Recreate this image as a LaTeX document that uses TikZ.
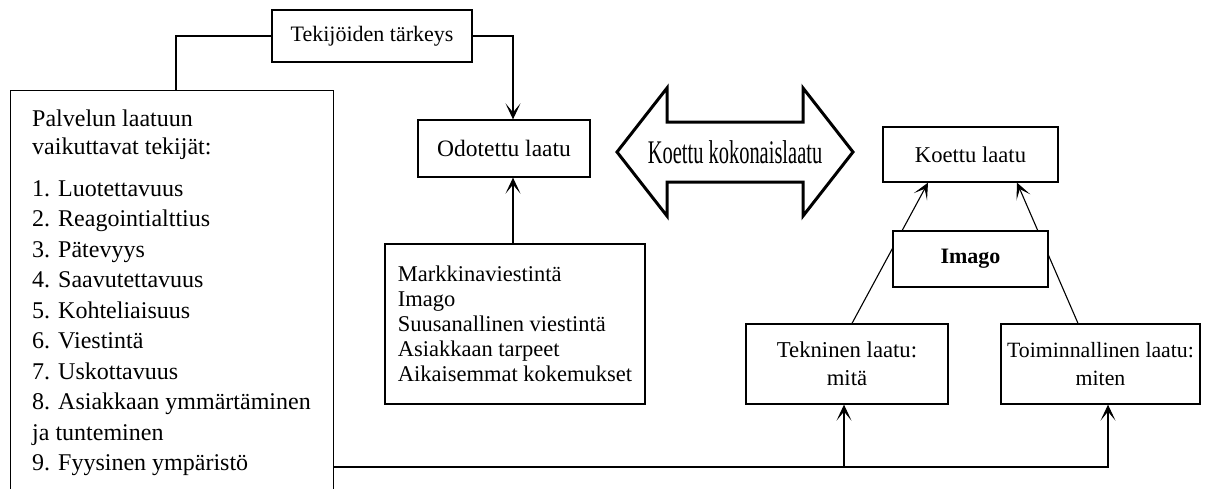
\documentclass[tikz,border=0pt]{standalone}
\usepackage{fontspec}
\setmainfont{Liberation Serif}
\usetikzlibrary{arrows.meta}
\begin{document}
\begin{tikzpicture}[x=1pt,y=-1pt,
  box/.style={draw, line width=1.3pt, fill=white, inner sep=0pt, align=center},
  link/.style={line width=1.1pt},
  arr/.style={link, -{Stealth[length=16pt,width=15pt,inset=9pt]}}]
\useasboundingbox (0,0) rectangle (1209,488);
\fill[white] (0,0) rectangle (1209,488);

% helper positions for connector routing
\coordinate (ax) at (513,0);
\coordinate (bus) at (0,467);

% left column
\node[box, minimum width=200pt, minimum height=52pt, font=\fontsize{22}{26}\selectfont] (tek) at (372,36) {Tekijöiden tärkeys};
\node[box, minimum width=323pt, minimum height=405pt, anchor=north west] (big) at (10,90) {};
\node[anchor=north west, align=left, inner sep=0pt, font=\fontsize{24}{30.5}\selectfont] (bigtxt) at (32,109.5)
  {Palvelun laatuun\\[-2pt] vaikuttavat tekijät:\\[11pt]
   1. Luotettavuus\\ 2. Reagointialttius\\ 3. Pätevyys\\ 4. Saavutettavuus\\
   5. Kohteliaisuus\\ 6. Viestintä\\ 7. Uskottavuus\\ 8. Asiakkaan ymmärtäminen\\
   ja tunteminen\\ 9. Fyysinen ympäristö};

% expected quality
\node[box, minimum width=172pt, minimum height=57pt, font=\fontsize{23.5}{27}\selectfont] (odo) at (504,148.5) {Odotettu laatu};
\node[box, minimum width=260pt, minimum height=160pt, align=left, font=\fontsize{22.5}{25}\selectfont] (mid) at (515,324)
  {Markkinaviestintä\\ Imago\\ Suusanallinen viestintä\\ Asiakkaan tarpeet\\ Aikaisemmat kokemukset};

% total perceived quality (double arrow)
\draw[line width=3pt, line join=miter, fill=white]
  (617,152) -- (667,88) -- (667,122) -- (803,122) -- (803,88) -- (853,152)
  -- (803,216) -- (803,182) -- (667,182) -- (667,216) -- cycle;
\node[inner sep=0pt] (koko) at (735,152)
  {\scalebox{0.62}[1]{\fontsize{33}{36}\selectfont Koettu kokonaislaatu}};

% experienced quality
\node[box, minimum width=175pt, minimum height=55pt, font=\fontsize{22.6}{26}\selectfont] (koettu) at (970.5,154.5) {Koettu laatu};
\node[box, minimum width=202pt, minimum height=80pt, font=\fontsize{22.7}{28}\selectfont] (tekn) at (847,364) {Tekninen laatu:\\ mitä};
\node[box, minimum width=199pt, minimum height=80pt, font=\fontsize{21.8}{28}\selectfont] (toim) at (1100.5,364) {Toiminnallinen laatu:\\ miten};

% connectors
\draw[link] (tek.west) -| ([xshift=166pt]big.north west);
\draw[arr] (tek.east) -| (odo.north -| ax);
\draw[arr] (mid.north -| ax) -- (odo.south -| ax);
\draw[arr] ([xshift=5pt]tekn.north) -- ([xshift=-42.5pt]koettu.south);
\draw[arr] ([xshift=-22.5pt]toim.north) -- ([xshift=46.5pt]koettu.south);
\draw[arr] (big.east |- bus) -| ([xshift=7.5pt]toim.south);
\draw[arr] ([xshift=-3pt]tekn.south |- bus) -- ([xshift=-3pt]tekn.south);

% image box sits over the two rising lines
\node[box, minimum width=155pt, minimum height=56pt, font=\bfseries\fontsize{22}{26}\selectfont] (imago) at (970.5,259) {Imago};
\end{tikzpicture}
\end{document}
